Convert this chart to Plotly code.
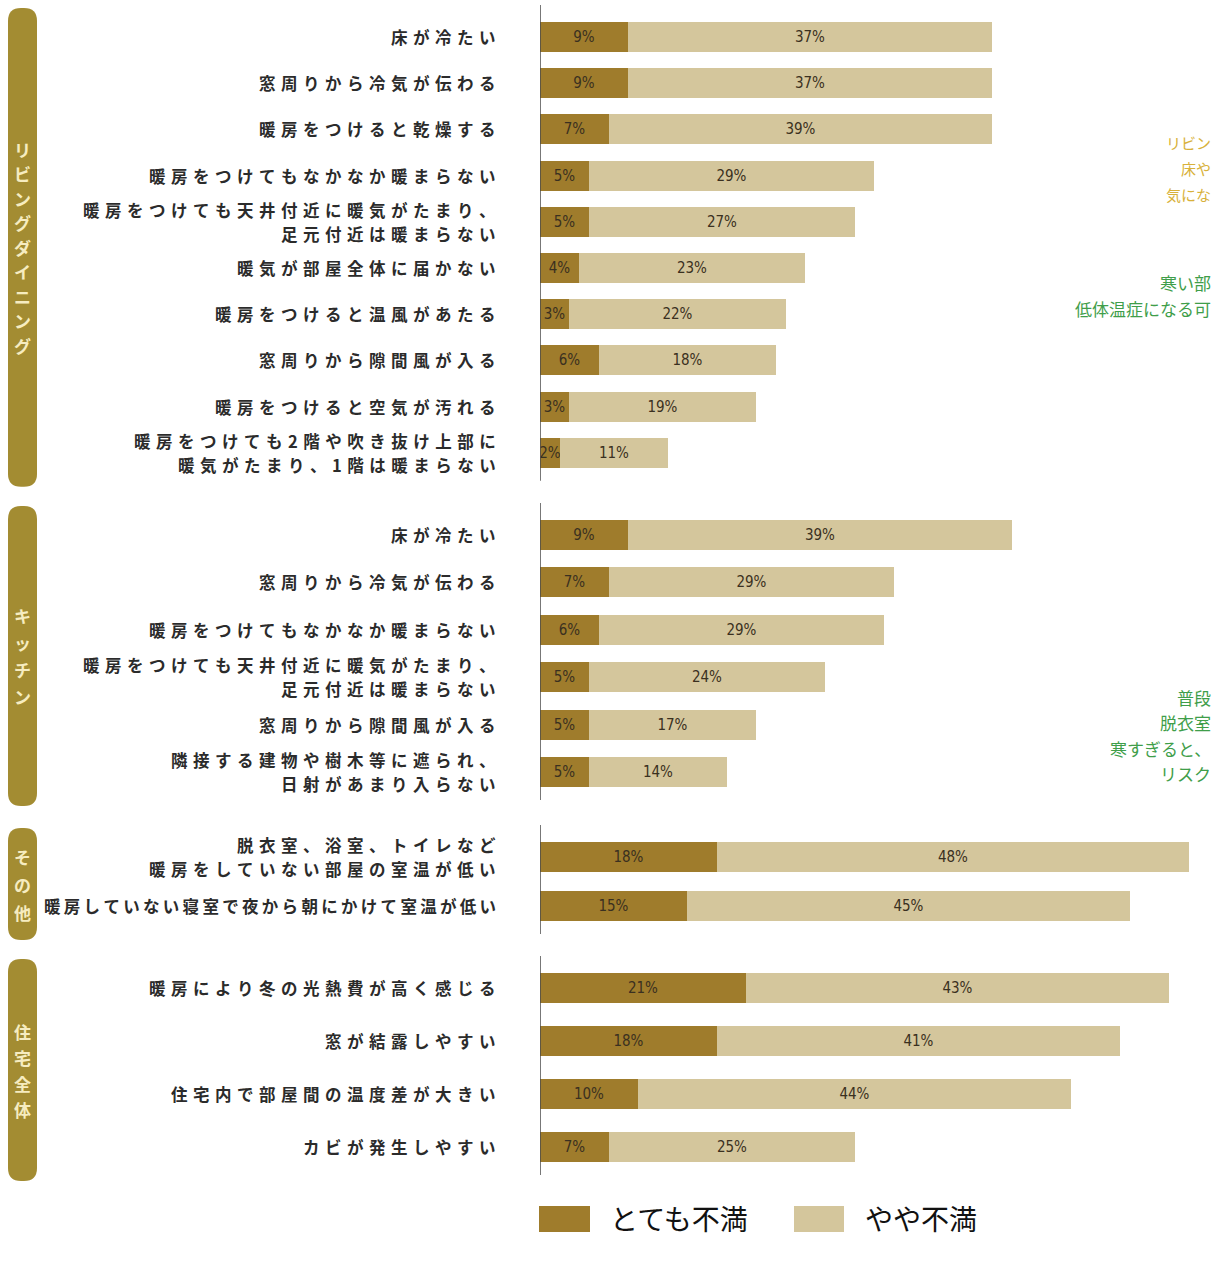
import plotly.graph_objects as go

# ---------------- data ----------------
groups = ["リビングダイニング", "キッチン", "その他", "住宅全体"]

living_items = [
    "床が冷たい",
    "窓周りから冷気が伝わる",
    "暖房をつけると乾燥する",
    "暖房をつけてもなかなか暖まらない",
    "暖房をつけても天井付近に暖気がたまり、<br>足元付近は暖まらない",
    "暖気が部屋全体に届かない",
    "暖房をつけると温風があたる",
    "窓周りから隙間風が入る",
    "暖房をつけると空気が汚れる",
    "暖房をつけても2階や吹き抜け上部に<br>暖気がたまり、1階は暖まらない",
]
living_very = [9, 9, 7, 5, 5, 4, 3, 6, 3, 2]
living_some = [37, 37, 39, 29, 27, 23, 22, 18, 19, 11]

kitchen_items = [
    "床が冷たい",
    "窓周りから冷気が伝わる",
    "暖房をつけてもなかなか暖まらない",
    "暖房をつけても天井付近に暖気がたまり、<br>足元付近は暖まらない",
    "窓周りから隙間風が入る",
    "隣接する建物や樹木等に遮られ、<br>日射があまり入らない",
]
kitchen_very = [9, 7, 6, 5, 5, 5]
kitchen_some = [39, 29, 29, 24, 17, 14]

other_items = [
    "脱衣室、浴室、トイレなど<br>暖房をしていない部屋の室温が低い",
    "暖房していない寝室で夜から朝にかけて室温が低い",
]
other_very = [18, 15]
other_some = [48, 45]

whole_items = [
    "暖房により冬の光熱費が高く感じる",
    "窓が結露しやすい",
    "住宅内で部屋間の温度差が大きい",
    "カビが発生しやすい",
]
whole_very = [21, 18, 10, 7]
whole_some = [43, 41, 44, 25]

series_names = ["とても不満", "やや不満"]

# ---------------- layout constants ----------------
W, H = 1212, 1263
ML = 540                      # left margin (axis position in px)
PX_PER_PCT = 9.83
PLOT_W = W - ML
group_start = [37, 535, 857, 988]
group_step = [46.2, 47.4, 49.0, 53.0]
group_char_step = [24.5, 27, 28, 26]
BAR_W = 30

DARK = "#9f7c2c"
LIGHT = "#d4c69c"
BOX = "#a38c32"
BOX_TXT = "#f6ecc0"
LABEL_COL = "#2b2b2b"
JP = "Noto Sans CJK JP, Noto Sans, sans-serif"
NARROW = "Liberation Sans Narrow, DejaVu Sans Condensed, sans-serif"

group_items = [living_items, kitchen_items, other_items, whole_items]
group_very = [living_very, kitchen_very, other_very, whole_very]
group_some = [living_some, kitchen_some, other_some, whole_some]

labels, very, some, ypos, group_ranges = [], [], [], [], []
for gi, items in enumerate(group_items):
    ys = [group_start[gi] + group_step[gi] * i for i in range(len(items))]
    labels += items
    very += group_very[gi]
    some += group_some[gi]
    ypos += ys
    group_ranges.append((ys[0], ys[-1]))


def spaced(line):
    sp = "\u2004" if len(line) <= 20 else "\u2009"
    return sp.join(list(line))


def px2paper(px):
    return (px - ML) / PLOT_W


fig = go.Figure()
for vals, col, nm in ((very, DARK, series_names[0]), (some, LIGHT, series_names[1])):
    fig.add_trace(go.Bar(
        y=ypos, x=vals, orientation="h", name=nm,
        marker=dict(color=col, line=dict(width=0)), width=BAR_W,
        text=[f"{v}%" for v in vals], textposition="inside",
        insidetextanchor="middle", textangle=0,
        textfont=dict(family=NARROW, size=15, color="#3a3020"),
        showlegend=False, hoverinfo="skip",
    ))

shapes = []
annotations = []

# category labels (one annotation per line)
LINE_GAP = 24
for lab, y in zip(labels, ypos):
    lines = lab.split("<br>")
    n = len(lines)
    for li, line in enumerate(lines):
        yy = y + (li - (n - 1) / 2) * LINE_GAP
        annotations.append(dict(
            x=0, xref="x", y=yy, yref="y", xanchor="right", yanchor="middle",
            xshift=-43, text=spaced(line), showarrow=False, align="right",
            borderpad=0,
            font=dict(family=JP, size=16.5, color=LABEL_COL, weight="bold"),
        ))

# group boxes, axis segments
for gi, (y0, y1) in enumerate(group_ranges):
    shapes.append(dict(type="line", xref="x", yref="y", x0=0, x1=0,
                       y0=y0 - 32, y1=y1 + 28,
                       line=dict(color="#4a4a4a", width=1.5)))
    bx0, bx1 = px2paper(8), px2paper(37)
    by0, by1 = y0 - 29, y1 + 34
    rx, ry = 13 / PLOT_W, 13
    path = (f"M {bx0+rx},{by0} L {bx1-rx},{by0} Q {bx1},{by0} {bx1},{by0+ry} "
            f"L {bx1},{by1-ry} Q {bx1},{by1} {bx1-rx},{by1} "
            f"L {bx0+rx},{by1} Q {bx0},{by1} {bx0},{by1-ry} "
            f"L {bx0},{by0+ry} Q {bx0},{by0} {bx0+rx},{by0} Z")
    shapes.append(dict(type="path", xref="paper", yref="y", path=path,
                       fillcolor=BOX, line=dict(width=0), layer="below"))
    chars = list(groups[gi])
    cy = (by0 + by1) / 2
    step = group_char_step[gi]
    for ci, ch in enumerate(chars):
        annotations.append(dict(
            x=px2paper(22.5), xref="paper",
            y=cy + (ci - (len(chars) - 1) / 2) * step, yref="y",
            xanchor="center", yanchor="middle", showarrow=False, text=ch,
            borderpad=0,
            font=dict(family=JP, size=17, color=BOX_TXT, weight="bold"),
        ))

# custom legend
leg_y0, leg_y1 = 1206, 1232
shapes.append(dict(type="rect", xref="paper", yref="y",
                   x0=px2paper(539), x1=px2paper(590), y0=leg_y0, y1=leg_y1,
                   fillcolor=DARK, line=dict(width=0)))
shapes.append(dict(type="rect", xref="paper", yref="y",
                   x0=px2paper(794), x1=px2paper(844), y0=leg_y0, y1=leg_y1,
                   fillcolor=LIGHT, line=dict(width=0)))
annotations.append(dict(x=px2paper(608), xref="paper", y=1218, yref="y",
                        xanchor="left", yanchor="middle", showarrow=False,
                        text=series_names[0],
                        font=dict(family=JP, size=28, color="#111111")))
annotations.append(dict(x=px2paper(863), xref="paper", y=1218, yref="y",
                        xanchor="left", yanchor="middle", showarrow=False,
                        text=series_names[1],
                        font=dict(family=JP, size=28, color="#111111")))

# cropped side-note fragments at the right edge
side_orange = "#d8b13a"
side_green = "#3f9e4a"
side_notes = [
    ("リビン", 142, side_orange, 15),
    ("床や", 168, side_orange, 15),
    ("気にな", 194, side_orange, 15),
    ("寒い部", 282, side_green, 17),
    ("低体温症になる可", 308, side_green, 17),
    ("普段", 697, side_green, 17),
    ("脱衣室", 722, side_green, 17),
    ("寒すぎると、", 748, side_green, 17),
    ("リスク", 773, side_green, 17),
]
for txt, y, col, sz in side_notes:
    annotations.append(dict(x=1, xref="paper", y=y, yref="y",
                            xanchor="right", yanchor="middle", showarrow=False,
                            borderpad=0,
                            text=txt, font=dict(family=JP, size=sz, color=col)))

fig.update_layout(
    width=W, height=H,
    margin=dict(l=ML, r=0, t=0, b=0, pad=0),
    barmode="stack", bargap=0,
    paper_bgcolor="white", plot_bgcolor="white",
    font=dict(family=JP),
    xaxis=dict(visible=False, range=[0, PLOT_W / PX_PER_PCT], fixedrange=True),
    yaxis=dict(visible=False, range=[H, 0], fixedrange=True),
    uniformtext=dict(minsize=15, mode="show"),
    shapes=shapes, annotations=annotations,
    showlegend=False,
)

fig.write_html("out.html")
